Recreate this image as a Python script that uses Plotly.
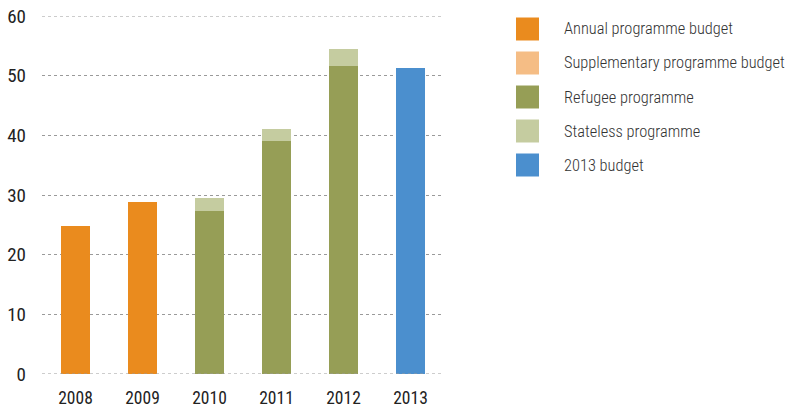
import plotly.graph_objects as go

years = ["2008", "2009", "2010", "2011", "2012", "2013"]
annual = [24.8, 28.8, 0, 0, 0, 0]
supplementary = [0, 0, 0, 0, 0, 0]
refugee = [0, 0, 27.3, 39.0, 51.6, 0]
stateless = [0, 0, 2.2, 2.0, 2.8, 0]
budget_2013 = [0, 0, 0, 0, 0, 51.3]

series_names = ["Annual programme budget", "Supplementary programme budget",
                "Refugee programme", "Stateless programme", "2013 budget"]
series_values = [annual, supplementary, refugee, stateless, budget_2013]
colors = ["#EA8B1E", "#F5BD85", "#969E56", "#C5CCA0", "#4B8FCE"]
y_ticks = [0, 10, 20, 30, 40, 50, 60]

FONT = "Roboto Condensed, DejaVu Sans Condensed, sans-serif"

fig = go.Figure()
for name, vals, col in zip(series_names, series_values, colors):
    fig.add_trace(go.Bar(x=years, y=vals, name=name, marker_color=col,
                         marker_line_width=0, showlegend=False))

# custom legend (squares + labels); plot area in pixels: x 42..444, y 16..374
for i, (name, col) in enumerate(zip(series_names, colors)):
    yc = 29 + i * 34
    fig.add_shape(type="rect", xref="paper", yref="paper",
                  x0=(516 - 42) / 402, x1=(539 - 42) / 402,
                  y0=(374 - (yc + 11.5)) / 358, y1=(374 - (yc - 11.5)) / 358,
                  fillcolor=col, line_width=0)
    fig.add_annotation(xref="paper", yref="paper",
                       x=(562 - 42) / 402, y=(374 - yc) / 358,
                       text=name, showarrow=False, xanchor="left", yanchor="middle",
                       font=dict(family=FONT, size=16.4, color="#333333", weight=300))

fig.update_layout(
    width=792, height=410,
    margin=dict(l=42, r=348, t=16, b=36, autoexpand=False),
    barmode="stack", bargap=0.58,
    plot_bgcolor="white", paper_bgcolor="white",
    font=dict(family=FONT, color="#222222"),
    xaxis=dict(showgrid=False, showline=False, ticks="", tickfont=dict(size=17.5),
               ticklabelstandoff=11, automargin=False),
    yaxis=dict(range=[0, 60], tickvals=y_ticks, showgrid=True, gridcolor="#9a9a9a",
               griddash="dot", gridwidth=1, zeroline=False, showline=False,
               tickfont=dict(size=19), ticklabelstandoff=15, automargin=False,
               ticklabeloverflow="allow"),
)
for yv in (0, 60):
    fig.add_hline(y=yv, line=dict(color="#9a9a9a", width=1, dash="dot"))

fig.write_html("out.html", config={"displayModeBar": False},
               post_script="document.body.style.margin='0';")
